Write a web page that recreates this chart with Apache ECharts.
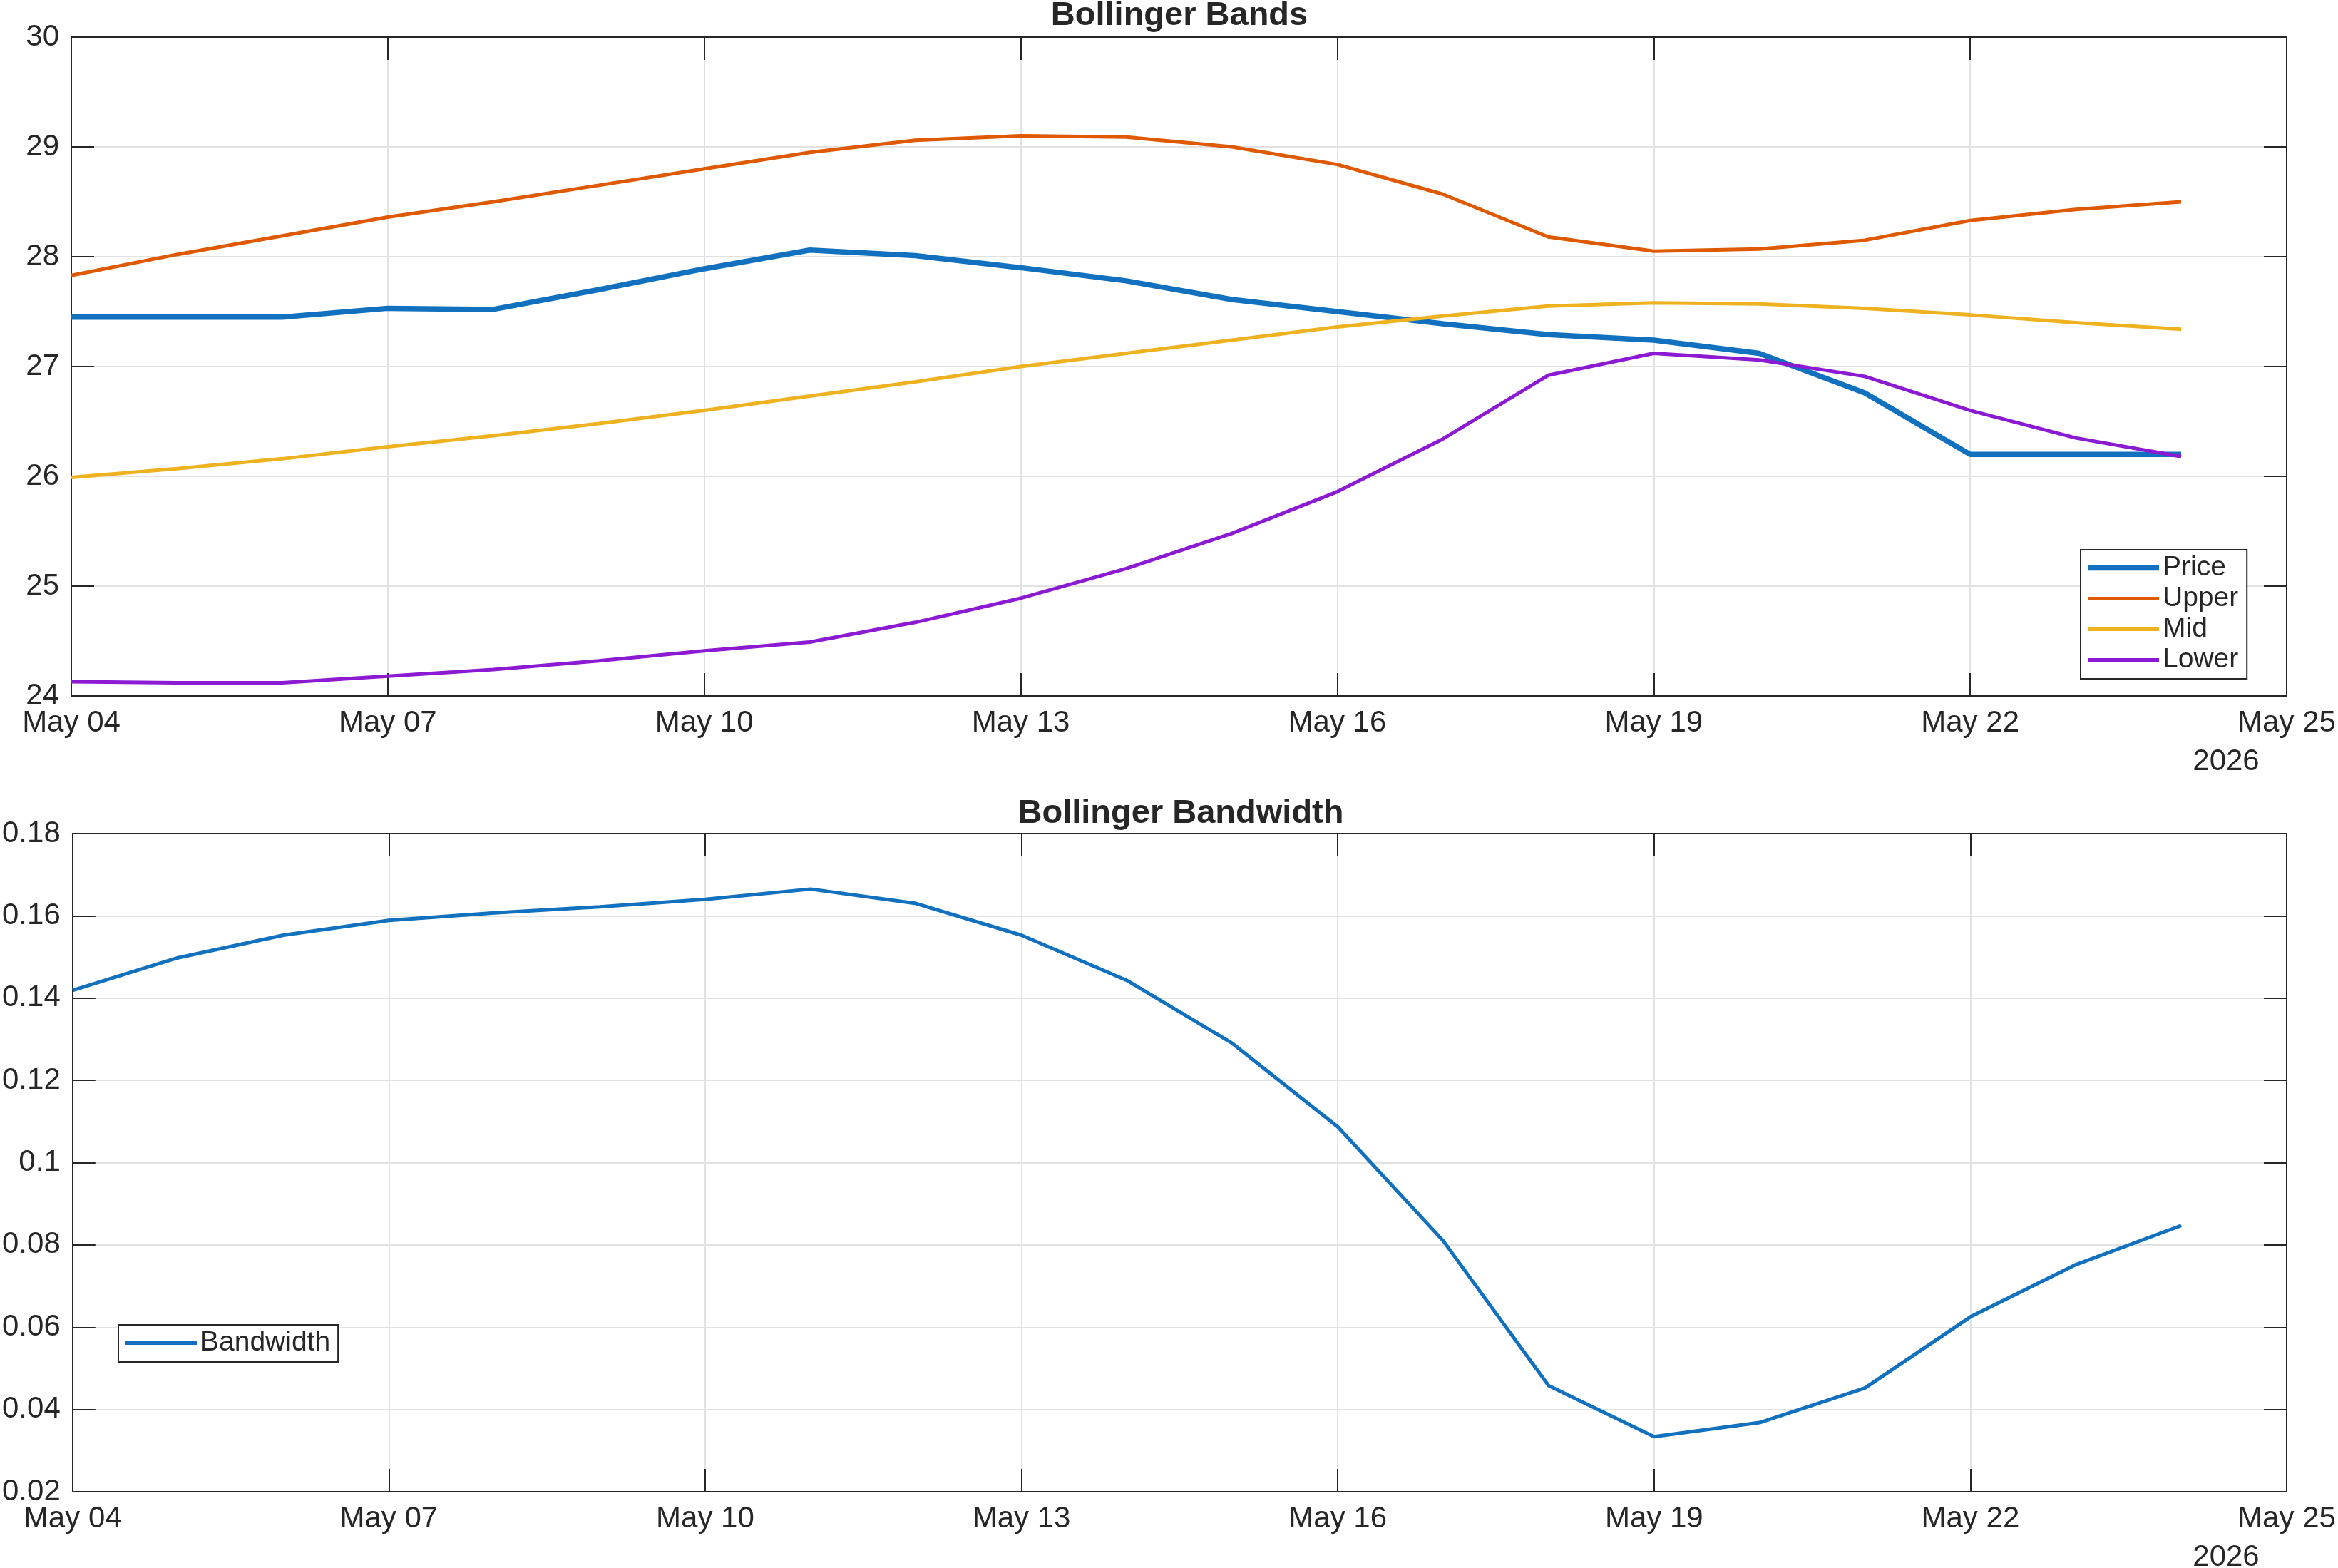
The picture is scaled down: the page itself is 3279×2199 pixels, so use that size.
<!DOCTYPE html>
<html>
<head>
<meta charset="utf-8">
<title>Bollinger Bands</title>
<script src="https://cdn.jsdelivr.net/npm/echarts@6/dist/echarts.min.js"></script>
<style>
  html, body { margin: 0; padding: 0; background: #fff; }
  #chart { width: 3279px; height: 2199px; }
</style>
</head>
<body>
<div id="chart"></div>
<script>
// daily categories, May 04 .. May 25 (last one has no data, it is the axis end)
const dates = ['May 04', 'May 05', 'May 06', 'May 07', 'May 08', 'May 09', 'May 10',
  'May 11', 'May 12', 'May 13', 'May 14', 'May 15', 'May 16', 'May 17', 'May 18',
  'May 19', 'May 20', 'May 21', 'May 22', 'May 23', 'May 24', 'May 25']
const yearLabel = '2026'

const price = [27.45, 27.45, 27.45, 27.53, 27.52, 27.70, 27.89, 28.06, 28.01, 27.90, 27.78,
  27.61, 27.50, 27.39, 27.29, 27.24, 27.12, 26.76, 26.20, 26.20, 26.20]
const upper = [27.83, 28.02, 28.19, 28.36, 28.50, 28.65, 28.80, 28.95, 29.06, 29.10, 29.09,
  29.00, 28.84, 28.57, 28.18, 28.05, 28.07, 28.15, 28.33, 28.43, 28.50]
const mid = [25.99, 26.07, 26.16, 26.27, 26.37, 26.48, 26.60, 26.73, 26.86, 27.00, 27.12,
  27.24, 27.36, 27.46, 27.55, 27.58, 27.57, 27.53, 27.47, 27.40, 27.34]
const lower = [24.13, 24.12, 24.12, 24.18, 24.24, 24.32, 24.41, 24.49, 24.67, 24.89, 25.16,
  25.48, 25.86, 26.34, 26.92, 27.12, 27.06, 26.91, 26.60, 26.35, 26.18]
const bandwidth = [0.1419, 0.1498, 0.1553, 0.1589, 0.1607, 0.1622, 0.1640, 0.1665, 0.1630,
  0.1553, 0.1443, 0.1290, 0.1087, 0.0810, 0.0458, 0.0334, 0.0368, 0.0452, 0.0625, 0.0752, 0.0847]

const fontFamily = '"Liberation Sans", Arial, Helvetica, sans-serif'
const axisColor = '#262626'
const gridColor = '#e2e2e2'
const colors = {
  Price: '#1171be',
  Upper: '#de5900',
  Mid: '#eeb220',
  Lower: '#8b1ad2',
  Bandwidth: '#1171be'
}

function xAxes(gridIndex) {
  const common = {
    type: 'category',
    gridIndex: gridIndex,
    data: dates,
    boundaryGap: false,
    axisLine: { show: true, lineStyle: { color: axisColor, width: 2 } },
    axisTick: { show: true, inside: true, length: 32, interval: 2, lineStyle: { color: axisColor, width: 2 } }
  }
  return [
    Object.assign({}, common, {
      position: 'bottom',
      axisLabel: { interval: 2, margin: 17, fontSize: 42, color: axisColor, fontFamily: fontFamily },
      splitLine: { show: true, interval: 2, lineStyle: { color: gridColor, width: 2 } }
    }),
    Object.assign({}, common, {
      position: 'top',
      axisLabel: { show: false },
      splitLine: { show: false }
    })
  ]
}

function yAxes(gridIndex, min, max, interval, fmt) {
  const common = {
    type: 'value',
    gridIndex: gridIndex,
    min: min,
    max: max,
    interval: interval,
    axisLine: { show: true, lineStyle: { color: axisColor, width: 2 } },
    axisTick: { show: true, inside: true, length: 32, lineStyle: { color: axisColor, width: 2 } }
  }
  return [
    Object.assign({}, common, {
      position: 'left',
      axisLabel: { margin: 17, fontSize: 42, color: axisColor, fontFamily: fontFamily, formatter: fmt },
      splitLine: { show: true, lineStyle: { color: gridColor, width: 2 } }
    }),
    Object.assign({}, common, {
      position: 'right',
      axisLabel: { show: false },
      splitLine: { show: false }
    })
  ]
}

function lineSeries(name, data, width, axisIndex) {
  return {
    name: name,
    type: 'line',
    xAxisIndex: axisIndex,
    yAxisIndex: axisIndex,
    data: data,
    symbol: 'none',
    silent: true,
    lineStyle: { color: colors[name], width: width },
    itemStyle: { color: colors[name] }
  }
}

// legend sample: a flat bar as thick as the series line
function legendItem(name, width) {
  return { name: name, icon: 'path://M0,0H100V' + width + 'H0Z' }
}

const legendCommon = {
  orient: 'vertical',
  itemWidth: 100,
  itemHeight: 40,
  itemGap: 4,
  itemTextGap: 9,
  symbolKeepAspect: true,
  backgroundColor: '#fff',
  borderColor: axisColor,
  borderWidth: 2,
  borderRadius: 0,
  selectedMode: false,
  textStyle: { fontSize: 39, color: axisColor, fontFamily: fontFamily }
}

const chart = echarts.init(document.getElementById('chart'))
chart.setOption({
  animation: false,
  backgroundColor: '#fff',
  grid: [
    { left: 100, top: 52, width: 3107, height: 924 },
    { left: 100, top: 1169, width: 3107, height: 923 }
  ],
  xAxis: xAxes(0).concat(xAxes(1)),
  yAxis: yAxes(0, 24, 30, 1, v => String(v))
    .concat(yAxes(1, 0.02, 0.18, 0.02, v => String(parseFloat(v.toFixed(2))))),
  legend: [
    Object.assign({}, legendCommon, {
      data: [legendItem('Price', 7.5), legendItem('Upper', 5), legendItem('Mid', 5), legendItem('Lower', 5)],
      left: 2918,
      top: 771,
      padding: [6, 12, 7, 10]
    }),
    Object.assign({}, legendCommon, {
      data: [legendItem('Bandwidth', 5)],
      left: 166,
      top: 1858,
      padding: [6, 11, 7, 10]
    })
  ],
  graphic: [
    { type: 'text', x: 1654, y: 22, style: { text: 'Bollinger Bands', fontSize: 47, fontWeight: 'bold', fill: axisColor, fontFamily: fontFamily, align: 'center', verticalAlign: 'middle' } },
    { type: 'text', x: 1656, y: 1141, style: { text: 'Bollinger Bandwidth', fontSize: 47, fontWeight: 'bold', fill: axisColor, fontFamily: fontFamily, align: 'center', verticalAlign: 'middle' } },
    { type: 'text', x: 3122, y: 1068, style: { text: yearLabel, fontSize: 42, fill: axisColor, fontFamily: fontFamily, align: 'center', verticalAlign: 'middle' } },
    { type: 'text', x: 3122, y: 2184, style: { text: yearLabel, fontSize: 42, fill: axisColor, fontFamily: fontFamily, align: 'center', verticalAlign: 'middle' } }
  ],
  series: [
    lineSeries('Price', price, 7.5, 0),
    lineSeries('Upper', upper, 5, 0),
    lineSeries('Mid', mid, 5, 0),
    lineSeries('Lower', lower, 5, 0),
    lineSeries('Bandwidth', bandwidth, 5, 2)
  ]
})
</script>
</body>
</html>
